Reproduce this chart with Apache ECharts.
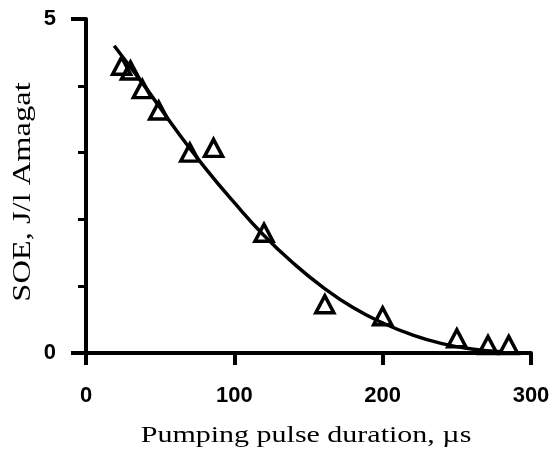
<!DOCTYPE html>
<html lang="en">
<head>
    <meta charset="UTF-8">
    <title>SOE vs pumping pulse duration</title>
    <script src="https://cdn.jsdelivr.net/npm/echarts@6/dist/echarts.min.js"></script>
    <style>
        html, body { margin: 0; padding: 0; background: #fff; }
    </style>
</head>
<body>
    <div id="main" style="width: 553px; height: 458px;"></div>

    <script type="text/javascript">
        // measured points (pulse duration in us, SOE in J/l Amagat)
        const pulseX = [24, 30, 38, 49, 70, 86, 120, 161, 200, 250, 271, 285];
        const soeY = [4.3, 4.23, 3.95, 3.63, 3.0, 3.07, 1.8, 0.73, 0.55, 0.22, 0.12, 0.12];

        // fitted curve
        const fitX = [19, 40, 60, 80, 100, 120, 140, 160, 180, 200, 220, 240, 260, 280];
        const fitY = [4.6, 3.98, 3.36, 2.78, 2.25, 1.76, 1.34, 0.98, 0.68, 0.45, 0.27, 0.14, 0.06, 0.02];

        const xTicks = [0, 100, 200, 300];
        const yLabelled = [0, 5];

        let myChart = echarts.init(document.getElementById('main'));

        const points = pulseX.map((x, i) => [x, soeY[i]]);
        const fit = fitX.map((x, i) => [x, fitY[i]]);

        let options = {
            animation: false,
            grid: { left: 86, top: 19, right: 22, bottom: 105 },
            xAxis: {
                type: 'value',
                min: xTicks[0],
                max: xTicks[xTicks.length - 1],
                interval: 100,
                axisLine: { lineStyle: { color: '#000', width: 4 } },
                axisTick: { length: 12, lineStyle: { color: '#000', width: 4 } },
                axisLabel: {
                    margin: 32,
                    color: '#000',
                    fontFamily: 'Liberation Sans, Arial, sans-serif',
                    fontSize: 22,
                    fontWeight: 'bold'
                },
                splitLine: { show: false }
            },
            yAxis: [{
                type: 'value',
                min: 0,
                max: 5,
                interval: 1,
                axisLine: { lineStyle: { color: '#000', width: 4 } },
                axisTick: { length: 8, lineStyle: { color: '#000', width: 3 } },
                axisLabel: { show: false },
                splitLine: { show: false }
            }, {
                // longer ticks at 0 and 5
                type: 'value',
                position: 'left',
                min: yLabelled[0],
                max: yLabelled[1],
                interval: 5,
                axisLine: { show: false },
                axisTick: { length: 15, lineStyle: { color: '#000', width: 4 } },
                axisLabel: { show: false },
                splitLine: { show: false }
            }],
            series: [{
                type: 'line',
                data: fit,
                smooth: true,
                showSymbol: false,
                lineStyle: { color: '#000', width: 3.5 },
                z: 2
            }, {
                type: 'scatter',
                data: points,
                symbol: 'triangle',
                symbolSize: [18, 17],
                itemStyle: { color: 'transparent', borderColor: '#000', borderWidth: 3.5, opacity: 1 },
                z: 3
            }]
        };

        myChart.setOption(options);

        // y labels at 0 and 5 placed through the axis scale, plus the axis titles
        const yLabelGraphics = yLabelled.map((v) => {
            const pos = myChart.convertToPixel({ yAxisIndex: 0 }, v);
            return {
                type: 'text',
                x: 56,
                y: pos,
                style: {
                    text: String(v),
                    fill: '#000',
                    font: 'bold 22px "Liberation Sans", Arial, sans-serif',
                    align: 'right',
                    verticalAlign: 'middle'
                }
            };
        });

        myChart.setOption({
            graphic: yLabelGraphics.concat([{
                type: 'text',
                x: 306,
                y: 436,
                scaleX: 1.25,
                style: {
                    text: 'Pumping pulse duration, \u00b5s',
                    fill: '#000',
                    font: '24px "Liberation Serif", "Times New Roman", serif',
                    align: 'center',
                    verticalAlign: 'middle'
                }
            }, {
                type: 'text',
                x: 23,
                y: 192,
                rotation: Math.PI / 2,
                scaleX: 1.3,
                style: {
                    text: 'SOE, J/l Amagat',
                    fill: '#000',
                    font: '25px "Liberation Serif", "Times New Roman", serif',
                    align: 'center',
                    verticalAlign: 'middle'
                }
            }])
        });
    </script>
</body>
</html>
